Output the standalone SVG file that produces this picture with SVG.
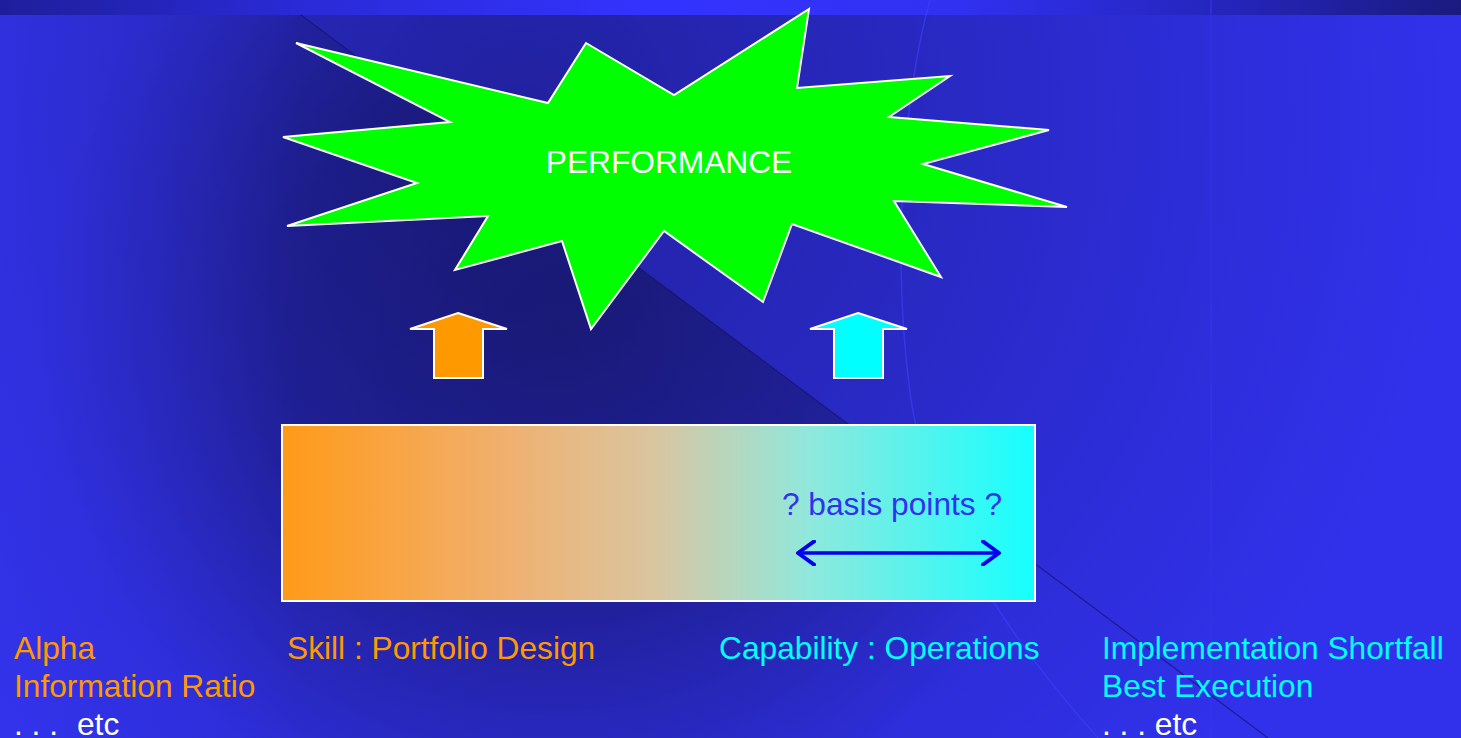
<svg xmlns="http://www.w3.org/2000/svg" width="1461" height="738" viewBox="0 0 1461 738">
<defs>
<style>
.lbl{font-family:"Liberation Sans",Arial,sans-serif;font-size:31.7px}
.org{fill:#ff9900}.cyn{fill:#00ffff}.wht{fill:#ffffff}
.shape{stroke:#ffffff;stroke-width:2;stroke-linejoin:miter}
</style>
<linearGradient id="band" x1="0" y1="0" x2="1" y2="0">
<stop offset="0" stop-color="#1e1e9c"/><stop offset="0.2" stop-color="#2a2ad6"/><stop offset="0.45" stop-color="#3333ff"/><stop offset="0.65" stop-color="#3131f2"/><stop offset="0.85" stop-color="#2424b8"/><stop offset="1" stop-color="#1a1a7e"/>
</linearGradient>
<radialGradient id="shadeTop" gradientUnits="userSpaceOnUse" cx="520" cy="120" r="950">
<stop offset="0" stop-color="#000" stop-opacity="0.33"/><stop offset="0.6" stop-color="#000" stop-opacity="0.12"/><stop offset="1" stop-color="#000" stop-opacity="0"/>
</radialGradient>
<radialGradient id="shadeTri" gradientUnits="userSpaceOnUse" cx="560" cy="330" r="520">
<stop offset="0" stop-color="#000" stop-opacity="0.32"/><stop offset="0.55" stop-color="#000" stop-opacity="0.22"/><stop offset="1" stop-color="#000" stop-opacity="0"/>
</radialGradient>
<linearGradient id="leftLight" x1="0" y1="0" x2="1" y2="0">
<stop offset="0" stop-color="#3a3aff" stop-opacity="0.35"/><stop offset="1" stop-color="#3a3aff" stop-opacity="0"/>
</linearGradient>
<linearGradient id="bar" x1="0" y1="0" x2="1" y2="0">
<stop offset="0" stop-color="#ff9a18"/><stop offset="0.3" stop-color="#f0b070"/><stop offset="0.5" stop-color="#d8c6a2"/><stop offset="0.7" stop-color="#90e8dc"/><stop offset="1" stop-color="#16ffff"/>
</linearGradient>
<marker id="chev" viewBox="0 0 20 26" refX="18" refY="13" markerWidth="20" markerHeight="26" markerUnits="userSpaceOnUse" orient="auto-start-reverse">
<path d="M2,1.5 L18,13 L2,24.5" fill="none" stroke="#0000ee" stroke-width="4" stroke-linecap="round" stroke-linejoin="round"/>
</marker>
</defs>

<g id="background">
<rect x="0" y="0" width="1461" height="738" fill="#3131ec"/>
<rect x="0" y="15" width="1461" height="723" fill="url(#shadeTop)"/>
<polygon points="301,15 1268,738 0,738 0,15" fill="url(#shadeTri)"/>
<rect x="0" y="15" width="300" height="723" fill="url(#leftLight)"/>
<rect x="0" y="0" width="1461" height="15" fill="url(#band)"/>
<line x1="301" y1="15" x2="1268" y2="738" stroke="#15156a" stroke-width="1.2" opacity="0.7"/>
<path d="M930,0 C905,90 890,250 911,400 C930,520 1010,640 1098,738" fill="none" stroke="#4040ff" stroke-width="1.5" opacity="0.6"/>
<line x1="1211" y1="15" x2="1211" y2="738" stroke="#3a3aff" stroke-width="1" opacity="0.5"/>
<line x1="1211" y1="0" x2="1211" y2="15" stroke="#3a3aff" stroke-width="1.2" opacity="0.8"/>
</g>

<g id="performance">
<polygon class="shape" fill="#00ff00" points="296,43 548,103 586,43 674,95 809,9 797,88 950,76 889,117 1049,130 923,164 1067,207 894,201 941,277 792,224 763,302 664,231 591,329 562,241 455,270 488,216 287,226 417,183 283,137 450,122"/>
<text class="lbl wht" x="669" y="173" text-anchor="middle" font-size="31">PERFORMANCE</text>
</g>

<g id="skill-arrow">
<polygon class="shape" fill="#ff9900" points="458,313 507,329 483,329 483,378 434,378 434,329 410,329"/>
</g>
<g id="capability-arrow">
<polygon class="shape" fill="#00ffff" points="858,313 907,329 883,329 883,378 834,378 834,329 810,329"/>
</g>

<g id="spectrum">
<rect class="shape" x="282" y="425" width="753" height="176" fill="url(#bar)"/>
<text class="lbl" x="892" y="515" text-anchor="middle" fill="#3232ee" font-size="31">? basis points ?</text>
</g>

<g id="connectors">
<line x1="798" y1="553" x2="999" y2="553" stroke="#0000ee" stroke-width="3.5" marker-start="url(#chev)" marker-end="url(#chev)"/>
</g>

<g id="left-labels">
<text class="lbl org" x="14" y="659">Alpha</text>
<text class="lbl org" x="14" y="697">Information Ratio</text>
<text class="lbl wht" x="14" y="735">. . .<tspan x="77">etc</tspan></text>
</g>
<g id="skill-label">
<text class="lbl org" x="287" y="659">Skill : Portfolio Design</text>
</g>
<g id="capability-label">
<text class="lbl cyn" x="719" y="659">Capability : Operations</text>
</g>
<g id="right-labels">
<text class="lbl cyn" x="1102" y="659">Implementation Shortfall</text>
<text class="lbl cyn" x="1102" y="697">Best Execution</text>
<text class="lbl wht" x="1102" y="735">. . . etc</text>
</g>
</svg>
